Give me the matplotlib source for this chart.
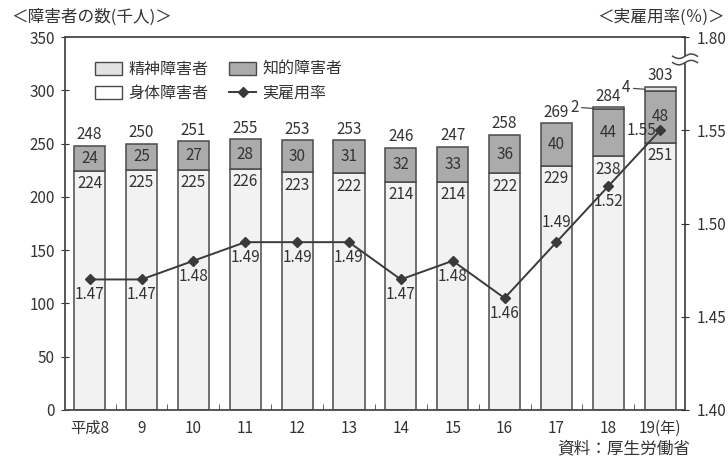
import numpy as np
import matplotlib
matplotlib.use("Agg")
import matplotlib.pyplot as plt
from matplotlib.patches import Patch, Rectangle
from matplotlib.lines import Line2D
from matplotlib.transforms import blended_transform_factory

plt.rcParams['font.family'] = ['Noto Sans CJK JP', 'DejaVu Sans']

# 障害者雇用状況 (平成8〜19年)
years = ['平成8', '9', '10', '11', '12', '13', '14', '15', '16', '17', '18', '19(年)']
physical = [224, 225, 225, 226, 223, 222, 214, 214, 222, 229, 238, 251]      # 身体障害者
intellectual = [24, 25, 27, 28, 30, 31, 32, 33, 36, 40, 44, 48]               # 知的障害者
mental = [0, 0, 0, 0, 0, 0, 0, 0, 0, 0, 2, 4]                                 # 精神障害者
totals = [248, 250, 251, 255, 253, 253, 246, 247, 258, 269, 284, 303]         # 合計(千人)
rate = [1.47, 1.47, 1.48, 1.49, 1.49, 1.49, 1.47, 1.48, 1.46, 1.49, 1.52, 1.55]  # 実雇用率(%)

edge = '#4a4a4a'
ink = '#333333'
c_phys = '#f2f2f2'
c_int = '#ababab'
c_ment = '#e2e2e2'
fs = 11

fig = plt.figure(figsize=(7.28, 4.63), dpi=100)
ax = fig.add_axes([0.089, 0.1145, 0.852, 0.8055])

x = np.arange(len(years))
w = 0.6
phys = np.array(physical)
intel = np.array(intellectual)
ment = np.array(mental)

ax.bar(x, phys, w, color=c_phys, edgecolor=edge, linewidth=1.1, zorder=2)
ax.bar(x, intel, w, bottom=phys, color=c_int, edgecolor=edge, linewidth=1.1, zorder=2)
has_m = ment > 0
ax.bar(x[has_m], ment[has_m], w, bottom=(phys + intel)[has_m], color=c_ment,
       edgecolor=edge, linewidth=1.1, zorder=2)

ax.set_xlim(-0.48, len(years) - 0.52)
ax.set_ylim(0, 350)
ax.set_yticks(np.arange(0, 351, 50))
ax.set_xticks(x, years)
ax.set_xticks(x[:-1] + 0.5, minor=True)
ax.tick_params(axis='x', which='major', length=0, pad=7, labelsize=fs, colors=ink)
ax.tick_params(axis='x', which='minor', direction='in', length=4, color=edge)
ax.tick_params(axis='y', direction='inout', length=6, pad=4, labelsize=fs, colors=ink)
for s in ax.spines.values():
    s.set_color(edge)
    s.set_linewidth(1.3)

# value labels on the bars
for i in x:
    top = phys[i] + intel[i] + ment[i]
    ax.annotate(str(totals[i]), (i, top), xytext=(0, 2), textcoords='offset points',
                ha='center', va='bottom', fontsize=fs, color=ink)
    ax.annotate(str(intellectual[i]), (i, phys[i] + intel[i] / 2), ha='center',
                va='center', fontsize=fs, color=ink, zorder=3)
    ax.annotate(str(physical[i]), (i, phys[i]), xytext=(0, -3), textcoords='offset points',
                ha='center', va='top', fontsize=fs, color=ink, zorder=3)
    if ment[i] > 0:
        ax.annotate(str(mental[i]), (i - w / 2, top - ment[i] / 2), xytext=(-10, 1),
                    textcoords='offset points', ha='right', va='center', fontsize=fs,
                    color=ink, arrowprops=dict(arrowstyle='-', color=edge, lw=0.9,
                                               shrinkA=0, shrinkB=0))

# 実雇用率 on the right axis
ax2 = ax.twinx()
ax2.set_ylim(1.40, 1.60)
ax2.set_yticks([1.40, 1.45, 1.50, 1.55, 1.60], ['1.40', '1.45', '1.50', '1.55', '1.80'])
ax2.tick_params(axis='y', direction='inout', length=6, pad=5, labelsize=fs, colors=ink)
for s in ax2.spines.values():
    s.set_visible(False)

ax2.plot(x, rate, color='#3a3a3a', lw=1.4, marker='D', ms=5, zorder=4)
for i, v in enumerate(rate):
    if i == 9:
        off, ha, va = (0, 8), 'center', 'bottom'
    elif i == 11:
        off, ha, va = (-3, 0), 'right', 'center'
    else:
        off, ha, va = (0, -5), 'center', 'top'
    ax2.annotate(f'{v:.2f}', (i, v), xytext=off, textcoords='offset points',
                 ha=ha, va=va, fontsize=fs, color=ink, zorder=5)

# broken scale mark on the right axis
tr = blended_transform_factory(ax2.transAxes, ax2.transData)
yb = 1.588
ax2.add_patch(Rectangle((0.99, yb - 0.002), 0.02, 0.004, transform=tr,
                        facecolor='white', edgecolor='none', clip_on=False, zorder=6))
t = np.linspace(-1, 1, 30)
for dy in (-0.0017, 0.0017):
    ax2.plot(1 + 0.02 * t, yb + dy + 0.0012 * np.sin(np.pi * t), transform=tr,
             color=edge, lw=1.1, clip_on=False, zorder=7)

handles = [
    Patch(facecolor=c_ment, edgecolor=edge, label='精神障害者'),
    Patch(facecolor='white', edgecolor=edge, label='身体障害者'),
    Patch(facecolor=c_int, edgecolor=edge, label='知的障害者'),
    Line2D([], [], color='#3a3a3a', lw=1.4, marker='D', ms=5, label='実雇用率'),
]
leg = ax.legend(handles=handles, ncol=2, loc='upper left', bbox_to_anchor=(0.025, 0.975),
                frameon=False, fontsize=11.5, handlelength=1.7, handleheight=0.9,
                columnspacing=1.3, labelspacing=0.45, handletextpad=0.4)
for txt in leg.get_texts():
    txt.set_color(ink)

fig.text(0.015, 0.963, '＜障害者の数(千人)＞', fontsize=12, color=ink, va='center')
fig.text(0.996, 0.963, '＜実雇用率(％)＞', fontsize=12, color=ink, va='center', ha='right')
fig.text(0.948, 0.03, '資料：厚生労働省', fontsize=12, color=ink, va='center', ha='right')

fig.savefig('out.png', dpi=100, facecolor='white')
